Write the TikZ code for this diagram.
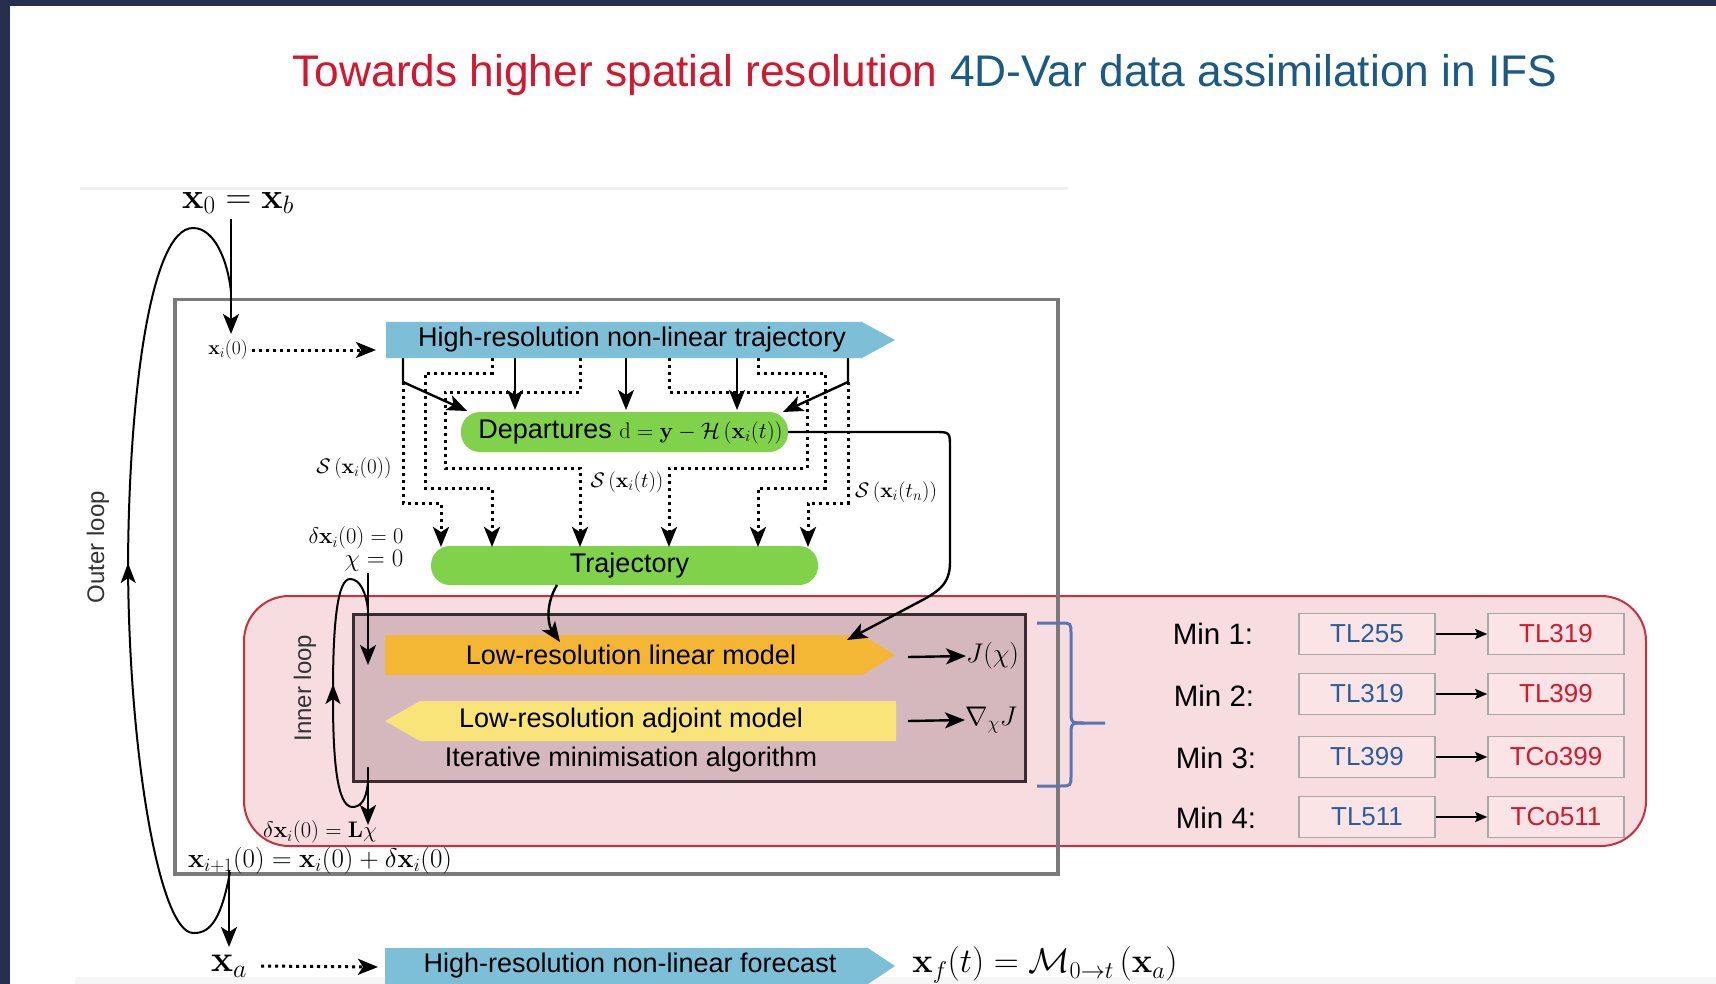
\RequirePackage{fix-cm}
\documentclass[tikz,border=0pt]{standalone}
\usepackage[no-math]{fontspec}
\usepackage{amsmath}
\newfontfamily\arial{Liberation Sans}
\usetikzlibrary{arrows.meta,calc}
\definecolor{navy}{HTML}{262F4D}
\definecolor{tred}{HTML}{D4162E}
\definecolor{tblue}{HTML}{1B5A86}
\definecolor{barblue}{HTML}{7EBFD8}
\definecolor{grn}{HTML}{80D24A}
\definecolor{orng}{HTML}{F4B735}
\definecolor{ylw}{HTML}{F8E479}
\definecolor{pinkbg}{HTML}{F8DDE0}
\definecolor{pinkbd}{HTML}{C8303F}
\definecolor{mauve}{HTML}{D5B8BE}
\definecolor{mauvebd}{HTML}{3A2C30}
\definecolor{boxgray}{HTML}{7A7A7A}
\definecolor{brblue}{HTML}{5B74B4}
\definecolor{tlblue}{HTML}{2B5D9B}
\definecolor{tlred}{HTML}{D4182F}
\definecolor{tlbd}{HTML}{A8A8A8}
\definecolor{tlfill}{HTML}{FAE4E6}
\tikzset{
  conn/.style={line width=2.4pt, draw=black},
  arr/.style={conn, -{Stealth[length=20pt,width=16pt,inset=5pt]}},
  dotarr/.style={line width=3pt, dash pattern=on 3pt off 4pt, -{Stealth[length=20pt,width=16pt,inset=5pt]}},
  smallarr/.style={line width=2pt, -{Stealth[length=12pt,width=10pt,inset=2pt]}},
  loopline/.style={line width=2pt},
  looparr/.style={line width=2pt, -{Stealth[length=20pt,width=15pt,inset=5pt]}},
  barlbl/.style={font=\arial\fontsize{27}{31}\selectfont, inner sep=0pt},
  greenbox/.style={fill=grn, rounded corners=19pt, inner sep=0pt, font=\arial\fontsize{27}{31}\selectfont},
  mlbl/.style={inner sep=0pt},
  tlbox/.style={draw=tlbd, line width=1.5pt, fill=tlfill, minimum width=136pt, minimum height=41pt, inner sep=0pt, font=\arial\fontsize{26}{30}\selectfont},
  minlbl/.style={inner sep=0pt, font=\arial\fontsize{29.5}{34}\selectfont},
  bracestyle/.style={draw=brblue, line width=3pt},
}
\begin{document}
\begin{tikzpicture}[x=1pt,y=-1pt]
\useasboundingbox (0,0) rectangle (1716,984);
\fill[white] (0,0) rectangle (1716,984);
\fill[navy] (0,0) rectangle (1716,6);
\fill[navy] (0,0) rectangle (10,984);
% faint figure edges
\draw[gray!12, line width=3pt] (80,189) -- (1068,189);
\fill[gray!7] (75,977) rectangle (1716,984);

% title
\node[anchor=base, inner sep=0pt, font=\arial\fontsize{44.3}{52}\selectfont] (title) at (925,87)
  {\textcolor{tred}{Towards higher spatial resolution} \textcolor{tblue}{4D-Var data assimilation in IFS}};

% pink region
\node[fill=pinkbg, draw=pinkbd, line width=2pt, rounded corners=45pt, minimum width=1402pt, minimum height=250pt, anchor=north west, inner sep=0pt] (pinkr) at (243,595) {};

% outer grey box
\node[draw=boxgray, line width=3.5pt, minimum width=883pt, minimum height=574pt, anchor=north west, inner sep=0pt] (outer) at (173,298) {};

% mauve iterative box
\node[fill=mauve, draw=mauvebd, line width=2.5pt, minimum width=672pt, minimum height=167pt, anchor=north west, inner sep=0pt] (iter) at (352,613) {};

% outer loop label
\node[rotate=90, inner sep=0pt, text=black!80, font=\arial\fontsize{24}{28}\selectfont] (outerlbl) at (98,547) {Outer loop};

% high-res trajectory bar
\fill[barblue] (386,322) -- (862,322) -- (895,340) -- (862,358) -- (386,358) -- cycle;
\node[barlbl] (hrt) at (632,340) {High-resolution non-linear trajectory};

% departures and trajectory
\node[greenbox, minimum width=327pt, minimum height=40pt] (dep) at (624.5,432)
  {\hspace*{12pt}Departures {\fontsize{22.5}{26}\selectfont$\mathrm{d}=\mathbf{y}-\mathcal{H}\,(\mathbf{x}_i(t))$}};
\node[greenbox, minimum width=387pt, minimum height=39pt] (traj) at (624.5,565.5) {\hspace*{10pt}Trajectory};

% low-res linear model (orange) and adjoint (yellow)
\fill[orng] (385,635) -- (862,635) -- (895,655) -- (862,675) -- (385,675) -- cycle;
\node[barlbl] (lin) at (631,655) {Low-resolution linear model};
\fill[ylw] (385,721) -- (420,701) -- (896,701) -- (896,741) -- (420,741) -- cycle;
\node[barlbl] (adj) at (631,721) {Low-resolution adjoint model};
\node[barlbl] (itxt) at (631,760) {Iterative minimisation algorithm};

% forecast bar
\fill[barblue] (385,948) -- (868,948) -- (895,966) -- (868,984) -- (385,984) -- cycle;
\node[barlbl] (fc) at (630,966) {High-resolution non-linear forecast};

% math labels
\node[mlbl, font=\fontsize{36}{40}\selectfont] (x0) at (238,203) {$\mathbf{x}_0=\mathbf{x}_b$};
\node[mlbl, font=\fontsize{19.5}{22}\selectfont] (xi0) at (228,350) {$\mathbf{x}_i(0)$};
\node[mlbl, font=\fontsize{21}{24}\selectfont] (s0) at (354,468) {$\mathcal{S}\,(\mathbf{x}_i(0))$};
\node[mlbl, font=\fontsize{21}{24}\selectfont] (st) at (627,482) {$\mathcal{S}\,(\mathbf{x}_i(t))$};
\node[mlbl, font=\fontsize{21}{24}\selectfont] (stn) at (896,492) {$\mathcal{S}\,(\mathbf{x}_i(t_n))$};
\node[mlbl, font=\fontsize{22.5}{26}\selectfont] (dx0) at (356,538) {$\delta\mathbf{x}_i(0)=0$};
\node[mlbl, font=\fontsize{25}{28}\selectfont] (chi0) at (374,561) {$\chi=0$};
\node[mlbl, font=\fontsize{27}{30}\selectfont, anchor=west] (jchi) at (966,656) {$J(\chi)$};
\node[mlbl, font=\fontsize{27}{30}\selectfont, anchor=west] (gradj) at (965,720) {$\nabla_{\chi}J$};
\node[mlbl, rotate=90, text=black!80, font=\arial\fontsize{24}{28}\selectfont] (innerlbl) at (305,688) {Inner loop};
\node[mlbl, font=\fontsize{22.5}{26}\selectfont] (dxl) at (320,832) {$\delta\mathbf{x}_i(0)=\mathbf{L}\chi$};
\node[mlbl, font=\fontsize{27}{30}\selectfont] (xnext) at (320,861) {$\mathbf{x}_{i+1}(0)=\mathbf{x}_i(0)+\delta\mathbf{x}_i(0)$};
\node[mlbl, font=\fontsize{37}{40}\selectfont] (xa) at (229,966) {$\mathbf{x}_a$};
\node[mlbl, font=\fontsize{34.5}{38}\selectfont] (xf) at (1045,965) {$\mathbf{x}_f(t)=\mathcal{M}_{0\rightarrow t}\,(\mathbf{x}_a)$};

% ---- connectors ----
\coordinate (x0foot) at (231,219);
\coordinate (xi0top) at (231,334);
\draw[arr] (x0foot) -- (xi0top);
\draw[dotarr] (xi0.east) ++(4,0) -- (376,350);

% solid arrows from trajectory bar to departures
\draw[arr] (403,358) -- (403,382) -- (467,411);
\draw[arr] (515,358) -- (515,410);
\draw[arr] (626,358) -- (626,410);
\draw[arr] (737,358) -- (737,410);
\draw[arr] (848,358) -- (848,382) -- (783,412);

% dotted paths from trajectory bar to trajectory
\draw[dotarr] (403,382) -- (403,503) -- (441,503) -- (441,547);
\draw[dotarr] (492,358) -- (492,373) -- (425,373) -- (425,488) -- (492,488) -- (492,547);
\draw[dotarr] (580,358) -- (580,392) -- (445,392) -- (445,468) -- (580,468) -- (580,547);
\draw[dotarr] (669,358) -- (669,392) -- (807,392) -- (807,468) -- (669,468) -- (669,547);
\draw[dotarr] (758,358) -- (758,373) -- (825,373) -- (825,488) -- (758,488) -- (758,547);
\draw[dotarr] (848,382) -- (848,503) -- (808,503) -- (808,547);

% departures -> linear model
\draw[arr] (dep.east) -- (934,432) .. controls (950,432) .. (950,448) -- (950,562)
  .. controls (950,585) and (938,592) .. (915,604) -- (847,640);
% trajectory -> linear model
\draw[arr] (557,585) .. controls (545,605) and (548,625) .. (560,642);

% outputs
\draw[arr] (908,657) -- (jchi.west);
\draw[arr] (908,721) -- (gradj.west);

% inner loop
\draw[arr] (368,573) -- (368,665);
\draw[arr] (368,767) -- (368,825);
\draw[looparr] (368,782) .. controls (366,802) and (360,807) .. (352,807)
   .. controls (337,806) and (333,760) .. (333,684);
\draw[loopline] (333,690) .. controls (333,620) and (338,579) .. (350,579)
   .. controls (360,579) and (366,592) .. (368,610);

% outer loop
\coordinate (olb) at (230,872);
\coordinate (olt) at (231,292);
\draw[looparr] (olb) .. controls (222,915) and (212,934) .. (193,933)
   .. controls (160,932) and (130,760) .. (128,563);
\draw[loopline] (128,575) .. controls (128,400) and (150,228) .. (193,228)
   .. controls (215,228) and (228,262) .. (olt);
\draw[arr] (229,870) -- (229,947);
\draw[dotarr] (xa.east) ++(14,0) -- (378,967);

% brace
\draw[bracestyle] (1037,623) -- (1060,623) .. controls (1071,623) .. (1071,634) -- (1071,710)
   .. controls (1071,723) .. (1084,723) -- (1105,723);
\draw[bracestyle] (1037,786) -- (1060,786) .. controls (1071,786) .. (1071,775) -- (1071,736)
   .. controls (1071,723) .. (1084,723);

% min table
\node[minlbl] (m1) at (1213,634) {Min 1:};
\node[minlbl] (m2) at (1214,696) {Min 2:};
\node[minlbl] (m3) at (1216,758) {Min 3:};
\node[minlbl] (m4) at (1216,818) {Min 4:};
\node[tlbox, text=tlblue] (l1) at (1367,634) {TL255};
\node[tlbox, text=tlblue] (l2) at (1367,694) {TL319};
\node[tlbox, text=tlblue] (l3) at (1367,757) {TL399};
\node[tlbox, text=tlblue] (l4) at (1367,817) {TL511};
\node[tlbox, text=tlred] (r1) at (1556,634) {TL319};
\node[tlbox, text=tlred] (r2) at (1556,694) {TL399};
\node[tlbox, text=tlred] (r3) at (1556,757) {TCo399};
\node[tlbox, text=tlred] (r4) at (1556,817) {TCo511};
\draw[smallarr] (l1.east) -- (r1.west);
\draw[smallarr] (l2.east) -- (r2.west);
\draw[smallarr] (l3.east) -- (r3.west);
\draw[smallarr] (l4.east) -- (r4.west);
\end{tikzpicture}
\end{document}
